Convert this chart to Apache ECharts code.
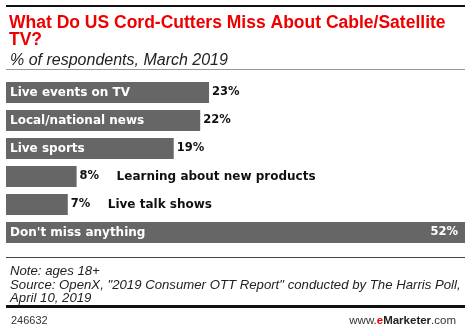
<!DOCTYPE html>
<html>
<head>
<meta charset="utf-8">
<script src="https://cdn.jsdelivr.net/npm/echarts@6/dist/echarts.min.js"></script>
<style>html,body{margin:0;padding:0;background:#fff}#c{width:470px;height:328px}</style>
</head>
<body>
<div id="c"></div>
<script>
var categories = ["Live events on TV", "Local/national news", "Live sports", "Learning about new products", "Live talk shows", "Don't miss anything"];
var values = [23, 22, 19, 8, 7, 52];
var outsideNames = [false, false, false, true, true, false];
var valueInside = [false, false, false, false, false, true];

var chart = echarts.init(document.getElementById('c'));

var mainData = values.map(function (v, i) {
  return {
    value: v,
    label: {
      show: !outsideNames[i],
      formatter: categories[i]
    }
  };
});
var valData = values.map(function (v, i) {
  var d = { value: v };
  if (valueInside[i]) {
    d.label = { position: 'insideRight', distance: 7, color: '#fff' };
  }
  return d;
});

chart.setOption({
  animation: false,
  title: [
    { text: 'What Do US Cord-Cutters Miss About Cable/Satellite\nTV?', left: 4, top: 10,
      textStyle: { fontFamily: 'Liberation Sans', fontWeight: 'bold', fontSize: 17.5, color: '#ee0000', lineHeight: 17 } },
    { text: '% of respondents, March 2019', left: 5, top: 48,
      textStyle: { fontFamily: 'Liberation Sans', fontStyle: 'italic', fontWeight: 'normal', fontSize: 16, color: '#222' } },
    { text: 'Note: ages 18+\nSource: OpenX, "2019 Consumer OTT Report" conducted by The Harris Poll,\nApril 10, 2019', left: 5, top: 260,
      textStyle: { fontFamily: 'Liberation Sans', fontStyle: 'italic', fontWeight: 'normal', fontSize: 13.2, color: '#222', lineHeight: 13.5 } },
    { text: '246632', left: 6, top: 310,
      textStyle: { fontFamily: 'Liberation Sans', fontWeight: 'normal', fontSize: 11, color: '#333' } },
    { text: '{a|www.}{b|e}{c|Marketer}{a|.com}', right: 9, top: 310,
      textStyle: { fontWeight: 'normal', rich: {
        a: { fontFamily: 'Liberation Sans', fontSize: 11.5, fontWeight: 'normal', color: '#333' },
        b: { fontFamily: 'Liberation Sans', fontSize: 11.5, fontWeight: 'bold', color: '#ee0000' },
        c: { fontFamily: 'Liberation Sans', fontSize: 11.5, fontWeight: 'bold', color: '#222' }
      } } }
  ],
  graphic: [
    { type: 'rect', shape: { x: 6, y: 5, width: 459, height: 2 }, style: { fill: '#111' } },
    { type: 'rect', shape: { x: 6, y: 69, width: 459, height: 1 }, style: { fill: '#999' } },
    { type: 'rect', shape: { x: 6, y: 257, width: 459, height: 1 }, style: { fill: '#444' } },
    { type: 'rect', shape: { x: 6, y: 305, width: 459, height: 3 }, style: { fill: '#111' } }
  ],
  grid: { left: 6, right: 5, top: 78.5, height: 168, containLabel: false },
  xAxis: { type: 'value', min: 0, max: 52, show: false },
  yAxis: { type: 'category', data: categories, inverse: true, show: false },
  series: [
    {
      type: 'bar', data: mainData, barWidth: 21, barGap: '-100%',
      itemStyle: { color: '#666666' },
      label: { show: true, position: 'insideLeft', distance: 4,
        fontFamily: 'DejaVu Sans', fontWeight: 'bold', fontSize: 12, color: '#fff' },
      silent: true
    },
    {
      type: 'bar', data: valData, barWidth: 21, barGap: '-100%',
      itemStyle: { color: 'rgba(0,0,0,0)' },
      label: { show: true, position: 'right', distance: 3,
        fontFamily: 'DejaVu Sans', fontWeight: 'bold', fontSize: 11.5, color: '#111',
        formatter: function (p) {
          var i = p.dataIndex;
          if (outsideNames[i]) return '{v|' + p.value + '%}{c|' + categories[i] + '}';
          return p.value + '%';
        },
        rich: {
          v: { width: 37, fontFamily: 'DejaVu Sans', fontWeight: 'bold', fontSize: 11.5, color: '#111' },
          c: { fontFamily: 'DejaVu Sans', fontWeight: 'bold', fontSize: 12, color: '#111' }
        }
      },
      silent: true
    }
  ]
});
</script>
</body>
</html>
